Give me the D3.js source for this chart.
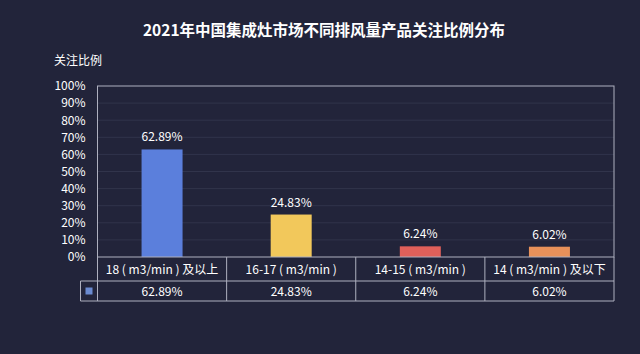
<!DOCTYPE html>
<html>
<head>
<meta charset="utf-8">
<script src="https://cdn.jsdelivr.net/npm/d3@7"></script>
<style>
  html, body { margin: 0; padding: 0; background: #22243a; }
  svg { display: block; }
  text { font-family: "Noto Sans CJK SC", "Noto Sans", sans-serif; fill: #fff; }
</style>
</head>
<body>
<div class="chart"></div>
<script>
const categories = ['18 ( m3/min ) 及以上', '16-17 ( m3/min )', '14-15 ( m3/min )', '14 ( m3/min ) 及以下'];
const values = [62.89, 24.83, 6.24, 6.02];
const barColors = ['#5b7fdc', '#f2c85b', '#e0605a', '#e8915a'];
const yTicks = [0, 10, 20, 30, 40, 50, 60, 70, 80, 90, 100];

const W = 640, H = 354;
const margin = { top: 86, right: 26, bottom: 97, left: 97.5 };
const width = W - margin.left - margin.right;
const height = H - margin.top - margin.bottom;
const row1H = 24, row2H = 20;

const svg = d3.select('.chart').append('svg')
    .attr('width', W)
    .attr('height', H);

svg.append('rect').attr('width', W).attr('height', H).attr('fill', '#22243a');

// title
svg.append('text')
    .attr('x', W / 2 + 4).attr('y', 36)
    .attr('text-anchor', 'middle')
    .style('font-size', '15.5px').style('font-weight', 'bold')
    .text('2021年中国集成灶市场不同排风量产品关注比例分布');

svg.append('text')
    .attr('x', 54).attr('y', 65)
    .style('font-size', '12px')
    .text('关注比例');

const g = svg.append('g')
    .attr('transform', `translate(${margin.left},${margin.top})`);

const x = d3.scaleBand().domain(categories).range([0, width]).paddingInner(0).paddingOuter(0);
const y = d3.scaleLinear().domain([0, 100]).range([height, 0]);

// grid
g.append('g')
    .selectAll('line')
    .data(yTicks.slice(1, -1))
    .enter().append('line')
    .attr('x1', 0).attr('x2', width)
    .attr('y1', d => y(d)).attr('y2', d => y(d))
    .attr('stroke', '#31344b').attr('stroke-width', 1);

// y axis labels
const yAxis = d3.axisLeft(y).tickValues(yTicks).tickFormat(d => d + '%').tickSize(0).tickPadding(12);
g.append('g').call(yAxis)
    .call(s => s.select('.domain').remove())
    .selectAll('text')
    .style('font-size', '12px')
    .attr('fill', '#fff');

// bars
const barW = 41;
g.selectAll('.bar')
    .data(values)
    .enter().append('rect')
    .attr('class', 'bar')
    .attr('x', (d, i) => x(categories[i]) + x.bandwidth() / 2 - barW / 2)
    .attr('y', d => y(d))
    .attr('width', barW)
    .attr('height', d => height - y(d))
    .attr('fill', (d, i) => barColors[i]);

// value labels
g.selectAll('.val')
    .data(values)
    .enter().append('text')
    .attr('x', (d, i) => x(categories[i]) + x.bandwidth() / 2)
    .attr('y', d => y(d) - 8)
    .attr('text-anchor', 'middle')
    .style('font-size', '12px')
    .text(d => d.toFixed(2) + '%');

// plot frame
const lineCol = '#aeb0bf';
g.append('rect')
    .attr('x', 0).attr('y', 0)
    .attr('width', width).attr('height', height)
    .attr('fill', 'none').attr('stroke', lineCol).attr('stroke-width', 1);

// data table
const legendX = -17;
const tH = row1H + row2H;
const t = g.append('g').attr('transform', `translate(0,${height})`);
t.append('line').attr('x1', 0).attr('x2', 0).attr('y1', 0).attr('y2', tH).attr('stroke', lineCol);
t.append('line').attr('x1', width).attr('x2', width).attr('y1', 0).attr('y2', tH).attr('stroke', lineCol);
t.append('line').attr('x1', legendX).attr('x2', width).attr('y1', row1H).attr('y2', row1H).attr('stroke', lineCol);
t.append('line').attr('x1', legendX).attr('x2', width).attr('y1', tH).attr('y2', tH).attr('stroke', lineCol);
t.append('line').attr('x1', legendX).attr('x2', legendX).attr('y1', row1H).attr('y2', tH).attr('stroke', lineCol);
t.selectAll('.sep')
    .data(categories.slice(1))
    .enter().append('line')
    .attr('x1', d => x(d)).attr('x2', d => x(d))
    .attr('y1', 0).attr('y2', tH)
    .attr('stroke', lineCol);

t.selectAll('.cat')
    .data(categories)
    .enter().append('text')
    .attr('x', d => x(d) + x.bandwidth() / 2)
    .attr('y', row1H / 2 + 4.5)
    .attr('text-anchor', 'middle')
    .style('font-size', '12px')
    .text(d => d);

t.selectAll('.cell')
    .data(values)
    .enter().append('text')
    .attr('x', (d, i) => x(categories[i]) + x.bandwidth() / 2)
    .attr('y', row1H + row2H / 2 + 4.5)
    .attr('text-anchor', 'middle')
    .style('font-size', '12px')
    .text(d => d.toFixed(2) + '%');

t.append('rect')
    .attr('x', legendX / 2 - 3.5).attr('y', row1H + row2H / 2 - 3.5)
    .attr('width', 7).attr('height', 7)
    .attr('fill', '#6a8ad0');
</script>
</body>
</html>
